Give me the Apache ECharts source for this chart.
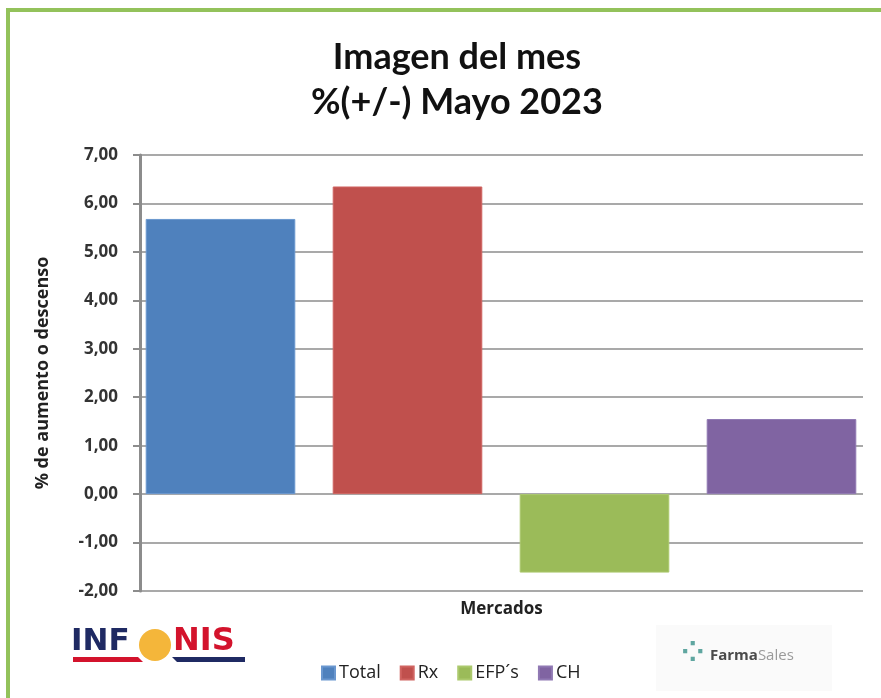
<!DOCTYPE html>
<html>
<head>
<meta charset="utf-8">
<script src="https://cdn.jsdelivr.net/npm/echarts@6/dist/echarts.min.js"></script>
<style>
html,body{margin:0;padding:0;background:#fff;}
#chart{width:881px;height:698px;}
</style>
</head>
<body>
<div id="chart"></div>
<script>
const categories = ['Total', 'Rx', 'EFP´s', 'CH'];
const values = [5.68, 6.35, -1.62, 1.55];
const yMin = -2, yMax = 7, yInterval = 1;
const titleLines = ['Imagen del mes', '%(+/-) Mayo 2023'];
const yAxisTitle = '% de aumento o descenso';
const xAxisTitle = 'Mercados';

const colors = ['#4F81BD', '#C0504D', '#9BBB59', '#8064A2'];
const borders = ['#6a97cf', '#d06461', '#abc96d', '#9079b3'];

const fmt = v => v.toFixed(2).replace('.', ',');

const series = categories.map((name, i) => ({
  name: name,
  type: 'bar',
  xAxisIndex: 1,
  yAxisIndex: 1,
  barGap: '-100%',
  barCategoryGap: '20%',
  itemStyle: { color: colors[i], borderColor: borders[i], borderWidth: 1 },
  data: categories.map((c, j) => (j === i ? values[i] : '-'))
}));

const chart = echarts.init(document.getElementById('chart'), null, { renderer: 'canvas' });
chart.setOption({
  backgroundColor: '#ffffff',
  animation: false,
  color: colors,
  title: [{
    text: titleLines.join('\n'),
    left: 452, top: 30, textAlign: 'center',
    textStyle: { fontFamily: 'Lato', fontWeight: 'bold', fontSize: 36, color: '#111', lineHeight: 45 }
  }],
  legend: {
    data: categories,
    left: 316, top: 659,
    itemWidth: 13, itemHeight: 13, itemGap: 19,
    icon: 'rect',
    textStyle: { fontFamily: 'Open Sans', fontSize: 18, color: '#222', padding: [0, 0, 0, -1] }
  },
  grid: [
    { left: 140, right: 18, top: 155, bottom: 107, containLabel: false },
    { left: 127, right: 6, top: 155, bottom: 107, containLabel: false }
  ],
  xAxis: [
    {
      gridIndex: 0, type: 'category', data: categories,
      axisLine: { show: false }, axisTick: { show: false }, axisLabel: { show: false },
      name: xAxisTitle, nameLocation: 'middle', nameGap: 10,
      nameTextStyle: { fontFamily: 'Open Sans', fontWeight: 'bold', fontSize: 17, color: '#222' }
    },
    {
      gridIndex: 1, type: 'category', data: categories,
      axisLine: { show: false }, axisTick: { show: false }, axisLabel: { show: false }
    }
  ],
  yAxis: [
    {
      gridIndex: 0, type: 'value', min: yMin, max: yMax, interval: yInterval,
      axisLine: { show: true, lineStyle: { color: '#8c8c8c', width: 3 } },
      axisTick: { show: true, inside: false, length: 7, lineStyle: { color: '#8c8c8c', width: 2 } },
      splitLine: { show: true, lineStyle: { color: '#a9a9a9', width: 2 } },
      axisLabel: {
        formatter: fmt, margin: 22,
        fontFamily: 'Open Sans', fontWeight: 'bold', fontSize: 17, color: '#333'
      },
      name: yAxisTitle, nameLocation: 'middle', nameGap: 88, nameRotate: 90,
      nameTextStyle: { fontFamily: 'Open Sans', fontWeight: 'bold', fontSize: 18, color: '#222' }
    },
    {
      gridIndex: 1, type: 'value', min: yMin, max: yMax, interval: yInterval,
      axisLine: { show: false }, axisTick: { show: false }, axisLabel: { show: false },
      splitLine: { show: false }
    }
  ],
  graphic: [
    { type: 'rect', z: -10, shape: { x: 8, y: 10, width: 900, height: 720 },
      style: { fill: 'none', stroke: '#93c25b', lineWidth: 4 } },
    // INFONIS logo
    { type: 'text', left: 71, top: 626,
      style: { text: 'INF', fill: '#1f2a63', font: 'bold 31px "DejaVu Sans"' } },
    { type: 'circle', shape: { cx: 155, cy: 645, r: 16 },
      style: { fill: '#f4b63a' } },
    { type: 'text', left: 173, top: 626,
      style: { text: 'NIS', fill: '#d3132c', font: 'bold 32px "DejaVu Sans"' } },
    { type: 'polygon', shape: { points: [[73, 657], [138, 657], [143, 662], [73, 662]] },
      style: { fill: '#d3132c' } },
    { type: 'polygon', shape: { points: [[172, 657], [245, 657], [245, 662], [177, 662]] },
      style: { fill: '#1f2a63' } },
    // FarmaSales logo
    { type: 'rect', z: -5, shape: { x: 656, y: 625, width: 176, height: 66 },
      style: { fill: '#fafafa' } },
    { type: 'text', left: 681, top: 641,
      style: { text: '⁘', fill: '#5fa6a0', font: 'bold 28px "DejaVu Sans"' } },
    { type: 'text', left: 710, top: 648,
      style: {
        text: '{a|Farma}{b|Sales}',
        rich: {
          a: { fontFamily: 'Open Sans', fontWeight: 'bold', fontSize: 15, fill: '#4a4a4a', color: '#4a4a4a' },
          b: { fontFamily: 'Open Sans', fontSize: 15, fill: '#9a9a9a', color: '#9a9a9a' }
        }
      } }
  ],
  series: series
});
</script>
</body>
</html>
